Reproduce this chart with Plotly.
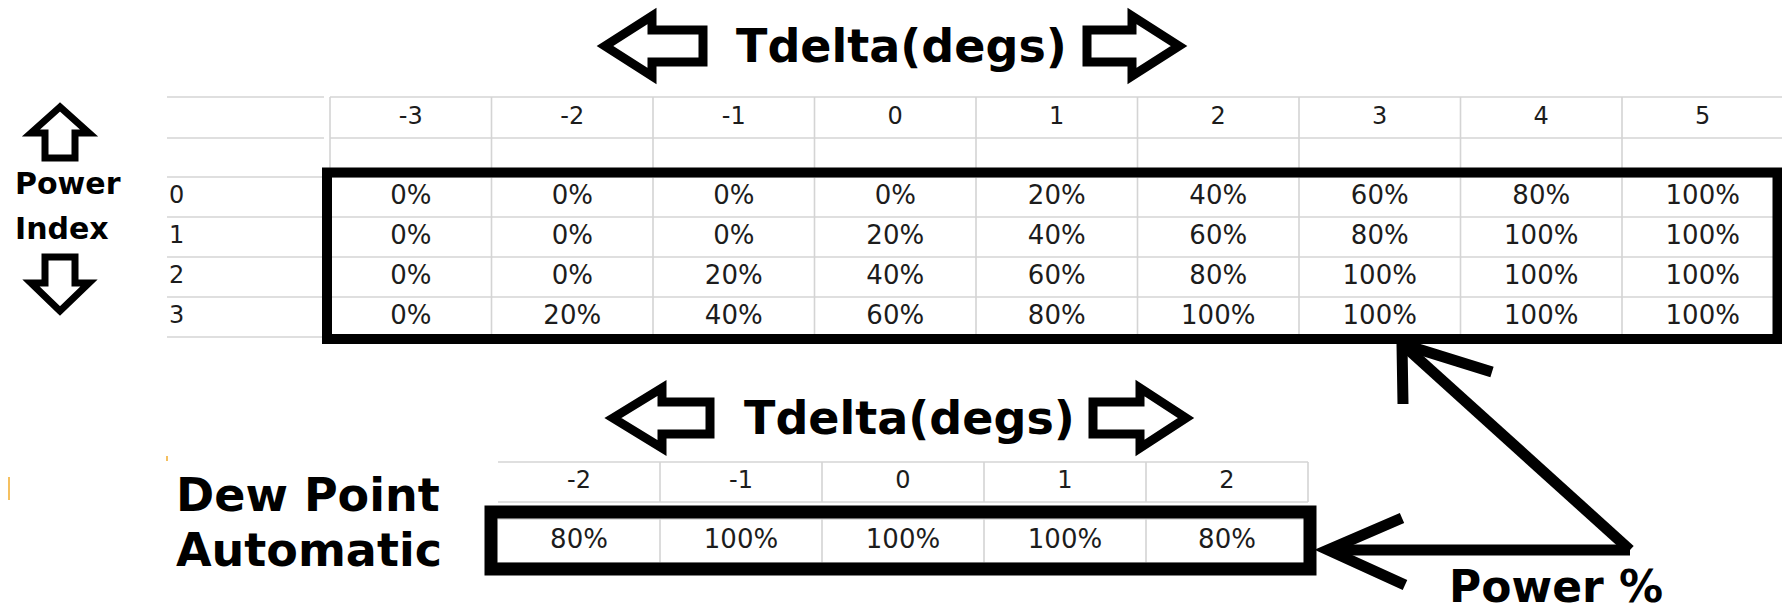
import plotly.graph_objects as go

# ---------------- data ----------------
tdelta_main = [-3, -2, -1, 0, 1, 2, 3, 4, 5]
power_index = [0, 1, 2, 3]
power_row0 = [0, 0, 0, 0, 20, 40, 60, 80, 100]
power_row1 = [0, 0, 0, 20, 40, 60, 80, 100, 100]
power_row2 = [0, 0, 20, 40, 60, 80, 100, 100, 100]
power_row3 = [0, 20, 40, 60, 80, 100, 100, 100, 100]
power_rows = [power_row0, power_row1, power_row2, power_row3]

tdelta_dew = [-2, -1, 0, 1, 2]
dew_power = [80, 100, 100, 100, 80]

title_axis = "Tdelta(degs)"
label_index = ["Power", "Index"]
label_dew = ["Dew Point", "Automatic"]
label_power = "Power %"

# ---------------- layout constants (pixel space) ----------------
W, H = 1782, 615
GRID = "#d4d4d4"
INK = "#1c1c1c"
CELL_FONT = "DejaVu Sans"
BOLD_FONT = "DejaVu Sans"

# main table
T_X0, T_CW = 330, 161.5
T_HDR_TOP, T_HDR_BOT = 97, 138
T_ROW0, T_RH = 177, 40
LBL_X0, LBL_X1 = 167, 324

# dew table
D_X0, D_CW = 498, 162
D_HDR_TOP, D_HDR_BOT = 462, 502
D_ROW_TOP, D_ROW_BOT = 519, 563

fig = go.Figure()
shapes = []


def hline(x0, x1, y, color=GRID, w=1.6):
    shapes.append(dict(type="line", x0=x0, x1=x1, y0=y, y1=y, xref="x", yref="y",
                       line=dict(color=color, width=w), layer="below"))


def vline(x, y0, y1, color=GRID, w=1.6):
    shapes.append(dict(type="line", x0=x, x1=x, y0=y0, y1=y1, xref="x", yref="y",
                       line=dict(color=color, width=w), layer="below"))


# ----- main table grid -----
n_cols = len(tdelta_main)
t_x1 = T_X0 + n_cols * T_CW
n_rows = len(power_index)
row_lines = [T_HDR_TOP, T_HDR_BOT, T_ROW0] + [T_ROW0 + (k + 1) * T_RH for k in range(n_rows)]
for y in row_lines:
    hline(LBL_X0, LBL_X1, y)
    hline(T_X0, t_x1, y)
for k in range(n_cols + 1):
    vline(T_X0 + k * T_CW, T_HDR_TOP, T_ROW0 + n_rows * T_RH)

# header labels
fig.add_trace(go.Scatter(
    x=[T_X0 + (i + 0.5) * T_CW for i in range(n_cols)],
    y=[(T_HDR_TOP + T_HDR_BOT) / 2] * n_cols,
    text=[str(v) for v in tdelta_main], mode="text",
    textfont=dict(family=CELL_FONT, size=24, color=INK), hoverinfo="skip"))

# row labels
fig.add_trace(go.Scatter(
    x=[LBL_X0 + 2] * n_rows,
    y=[T_ROW0 + (r + 0.5) * T_RH for r in range(n_rows)],
    text=[str(v) for v in power_index], mode="text", textposition="middle right",
    textfont=dict(family=CELL_FONT, size=24, color=INK), hoverinfo="skip"))

# cells
cx, cy, ct = [], [], []
for r, row in enumerate(power_rows):
    for i, v in enumerate(row):
        cx.append(T_X0 + (i + 0.5) * T_CW)
        cy.append(T_ROW0 + (r + 0.5) * T_RH)
        ct.append(f"{v}%")
fig.add_trace(go.Scatter(x=cx, y=cy, text=ct, mode="text",
                         textfont=dict(family=CELL_FONT, size=26, color=INK),
                         hoverinfo="skip"))

# thick frame around main values
shapes.append(dict(type="rect", x0=327, x1=1777.5, y0=172.5, y1=339, xref="x", yref="y",
                   line=dict(color="black", width=10), layer="above"))

# ----- dew table grid -----
n_d = len(tdelta_dew)
d_x1 = D_X0 + n_d * D_CW
hline(D_X0, d_x1, D_HDR_TOP)
hline(D_X0, d_x1, D_HDR_BOT)
hline(D_X0, d_x1, D_ROW_TOP)
hline(D_X0, d_x1, D_ROW_BOT)
for k in range(1, n_d + 1):
    vline(D_X0 + k * D_CW, D_HDR_TOP, D_HDR_BOT)
for k in range(1, n_d):
    vline(D_X0 + k * D_CW, D_ROW_TOP, D_ROW_BOT)

fig.add_trace(go.Scatter(
    x=[D_X0 + (i + 0.5) * D_CW for i in range(n_d)],
    y=[(D_HDR_TOP + D_HDR_BOT) / 2] * n_d,
    text=[str(v) for v in tdelta_dew], mode="text",
    textfont=dict(family=CELL_FONT, size=24, color=INK), hoverinfo="skip"))
fig.add_trace(go.Scatter(
    x=[D_X0 + (i + 0.5) * D_CW for i in range(n_d)],
    y=[(D_ROW_TOP + D_ROW_BOT) / 2] * n_d,
    text=[f"{v}%" for v in dew_power], mode="text",
    textfont=dict(family=CELL_FONT, size=26, color=INK), hoverinfo="skip"))

shapes.append(dict(type="rect", x0=491, x1=1310, y0=512, y1=569, xref="x", yref="y",
                   line=dict(color="black", width=13), layer="above"))


# ----- block arrows -----
def block_arrow_h(tail_x, joint_x, tip_x, yc, head_half=30, shaft_half=16):
    p = (f"M {tip_x} {yc} L {joint_x} {yc - head_half} L {joint_x} {yc - shaft_half} "
         f"L {tail_x} {yc - shaft_half} L {tail_x} {yc + shaft_half} L {joint_x} {yc + shaft_half} "
         f"L {joint_x} {yc + head_half} Z")
    shapes.append(dict(type="path", path=p, xref="x", yref="y", fillcolor="white",
                       line=dict(color="black", width=9), layer="above"))


def block_arrow_v(xc, tail_y, joint_y, tip_y, head_half=29, shaft_half=15):
    p = (f"M {xc} {tip_y} L {xc - head_half} {joint_y} L {xc - shaft_half} {joint_y} "
         f"L {xc - shaft_half} {tail_y} L {xc + shaft_half} {tail_y} L {xc + shaft_half} {joint_y} "
         f"L {xc + head_half} {joint_y} Z")
    shapes.append(dict(type="path", path=p, xref="x", yref="y", fillcolor="white",
                       line=dict(color="black", width=7), layer="above"))


block_arrow_h(703, 652, 605, 46)
block_arrow_h(1087, 1132, 1179, 46)
block_arrow_h(710, 662, 613, 418)
block_arrow_h(1093, 1140, 1186, 418)
block_arrow_v(60, 158, 133, 107)
block_arrow_v(60, 257, 283, 311)

# ----- line arrows to "Power %" -----
for p in ["M 1630 550 L 1328 550", "M 1402 518 L 1328 550 L 1405 585",
          "M 1630 550 L 1402 344", "M 1403 404 L 1402 344 L 1492 372"]:
    shapes.append(dict(type="path", path=p, xref="x", yref="y",
                       line=dict(color="black", width=11), layer="above"))

# faint orange artefacts
shapes.append(dict(type="line", x0=9, x1=9, y0=477, y1=500, xref="x", yref="y",
                   line=dict(color="#f5c060", width=2), layer="below"))
shapes.append(dict(type="line", x0=167, x1=167, y0=456, y1=461, xref="x", yref="y",
                   line=dict(color="#f5c060", width=2), layer="below"))

# ----- text annotations -----
bold = dict(family=BOLD_FONT, color="black", weight="bold")
annotations = [
    dict(x=901, y=46, text=title_axis, font=dict(size=46, **bold)),
    dict(x=909, y=418, text=title_axis, font=dict(size=46, **bold)),
    dict(x=13, y=183, text=label_index[0], font=dict(size=30, **bold), xanchor="left"),
    dict(x=13, y=228, text=label_index[1], font=dict(size=30, **bold), xanchor="left"),
    dict(x=174, y=495, text=label_dew[0], font=dict(size=46, **bold), xanchor="left"),
    dict(x=174, y=550, text=label_dew[1], font=dict(size=46, **bold), xanchor="left"),
    dict(x=1556, y=586, text=label_power, font=dict(size=44, **bold)),
]
for a in annotations:
    a.update(xref="x", yref="y", showarrow=False, yanchor=a.get("yanchor", "middle"),
             xanchor=a.get("xanchor", "center"))

fig.update_layout(
    width=W, height=H, margin=dict(l=0, r=0, t=0, b=0),
    paper_bgcolor="white", plot_bgcolor="white", showlegend=False,
    xaxis=dict(range=[0, W], visible=False, fixedrange=True),
    yaxis=dict(range=[H, 0], visible=False, fixedrange=True),
    shapes=shapes, annotations=annotations,
)

fig.write_html("out.html", config={"displayModeBar": False},
               post_script="document.body.style.margin='0';document.body.style.overflow='hidden';")
